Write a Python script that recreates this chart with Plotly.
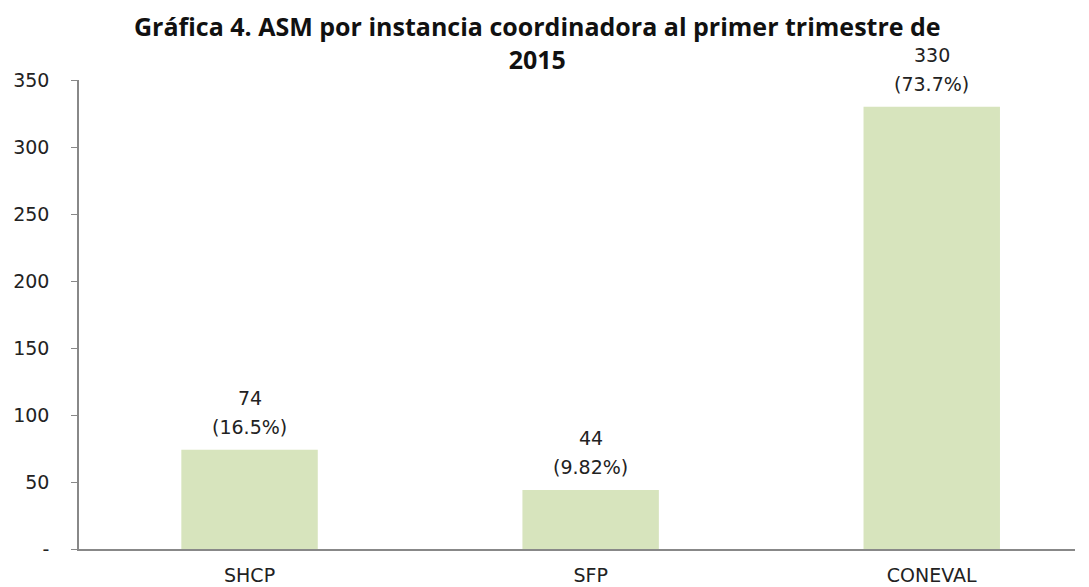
import plotly.graph_objects as go

categories = ["SHCP", "SFP", "CONEVAL"]
values = [74, 44, 330]
shares = ["16.5%", "9.82%", "73.7%"]
tick_vals = [0, 50, 100, 150, 200, 250, 300, 350]
tick_text = ["-", "50", "100", "150", "200", "250", "300", "350"]
title_lines = ["Gráfica 4. ASM por instancia coordinadora al primer trimestre de", "2015"]

label_font = dict(family="DejaVu Sans", size=19, color="#222")

fig = go.Figure(
    data=[
        go.Bar(
            x=categories, y=values,
            marker=dict(color="#d7e4bd", line=dict(width=0)),
            width=0.4,
        )
    ]
)

# value and share labels, two separate lines above each bar
notes = []
for c, v, s in zip(categories, values, shares):
    notes.append(dict(x=c, y=v, text=str(v), yshift=52, showarrow=False,
                      yanchor="middle", font=label_font))
    notes.append(dict(x=c, y=v, text=f"({s})", yshift=23, showarrow=False,
                      yanchor="middle", font=label_font))

notes.append(dict(
    text="<b>" + "<br>".join(title_lines) + "</b>",
    xref="paper", yref="paper", x=0.46, y=1, xanchor="center", yanchor="bottom",
    yshift=2, showarrow=False, align="center",
    font=dict(family="Open Sans", size=25, color="#111"),
))

# page has an 8px body margin, so margins are trimmed to land on the reference
fig.update_layout(
    width=1089, height=587,
    paper_bgcolor="white", plot_bgcolor="white",
    margin=dict(l=71, r=22, t=72, b=46),
    showlegend=False,
    annotations=notes,
    xaxis=dict(
        range=[-0.5, 2.42], showline=True, linecolor="#888", linewidth=1.5,
        ticks="", showgrid=False, ticklabelstandoff=8, automargin=False,
        tickfont=label_font,
    ),
    yaxis=dict(
        range=[0, 350], tickvals=tick_vals, ticktext=tick_text,
        showline=True, linecolor="#888", linewidth=1.5,
        ticks="outside", ticklen=6, tickcolor="#888", automargin=False,
        showgrid=False, zeroline=False, ticklabelstandoff=18,
        tickfont=label_font,
    ),
)

fig.write_html("out.html")
